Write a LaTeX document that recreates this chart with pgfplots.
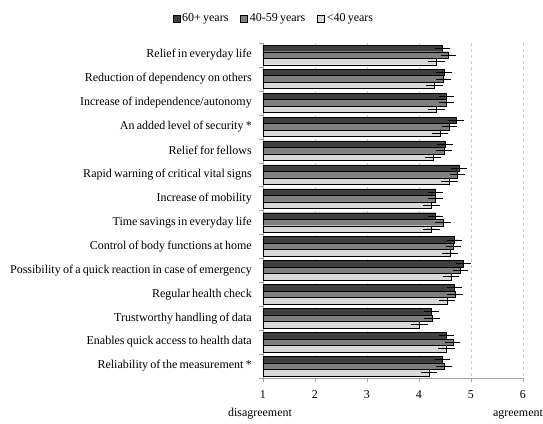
\documentclass[border=0pt]{standalone}
\usepackage{pgfplots}
\pgfplotsset{compat=1.18}
\usepackage{fontspec}
\setmainfont{Liberation Serif}[WordSpace=0.75]
\definecolor{cA}{HTML}{3F3F3F}
\definecolor{cB}{HTML}{7F7F7F}
\definecolor{cC}{HTML}{D9D9D9}
\definecolor{axg}{HTML}{A6A6A6}
\definecolor{grd}{HTML}{D0D0D0}
\begin{document}
\fontsize{12}{14}\selectfont
\begin{tikzpicture}
\begin{axis}[
 at={(0,0)}, anchor=south west,
 scale only axis, width=260pt, height=335pt,
 xmin=1, xmax=6, xtick={1,...,6},
 ymin=-0.5, ymax=13.5, y dir=reverse,
 ytick={0,...,13},
 yticklabels={Relief in everyday life, Reduction of dependency on others, Increase of independence/autonomy, An added level of security *, Relief for fellows, Rapid warning of critical vital signs, Increase of mobility, Time savings in everyday life, Control of body functions at home, Possibility of a quick reaction in case of emergency, Regular health check, Trustworthy handling of data, Enables quick access to health data, Reliability of the measurement *},
 minor ytick={-0.5,0.5,...,13.5},
 axis x line*=bottom, axis y line*=left,
 axis line style={draw=axg, -},
 xmajorgrids=true, major x grid style={dashed, grd},
 tick align=outside, major tick length=4pt, minor tick length=4pt,
 major y tick style={draw=none},
 minor y tick style={draw=axg},
 major x tick style={draw=axg},
 /pgf/number format/assume math mode=true,
 tick label style={font=\fontsize{12}{14}\selectfont},
 yticklabel style={xshift=-3pt},
 xticklabel style={yshift=-4pt},
 xbar, bar width=6.5pt,
 legend style={at={(0.042,1.072)}, anchor=center, draw=none, fill=none, legend columns=3,
   font=\fontsize{12}{14}\selectfont,
   /tikz/every even column/.append style={column sep=10pt}},
 legend image code/.code={\draw[#1, draw=black, line width=0.4pt] (0pt,-3.5pt) rectangle (7pt,3.5pt);},
 error bars/error bar style={black, line width=0.7pt},
 error bars/error mark options={black, mark size=3.5pt, line width=0.7pt},
]
\addplot[fill=cA, draw=black, line width=0.4pt, bar shift=6.5pt,
  error bars/.cd, x dir=both, x explicit] coordinates {
 (4.45,0) +- (0.08,0) (4.48,1) +- (0.08,0) (4.53,2) +- (0.08,0) (4.71,3) +- (0.08,0)
 (4.50,4) +- (0.08,0) (4.77,5) +- (0.08,0) (4.32,6) +- (0.08,0) (4.32,7) +- (0.08,0)
 (4.68,8) +- (0.08,0) (4.85,9) +- (0.08,0) (4.68,10) +- (0.08,0) (4.24,11) +- (0.08,0)
 (4.53,12) +- (0.08,0) (4.45,13) +- (0.08,0)};
\addplot[fill=cB, draw=black, line width=0.4pt, bar shift=0pt,
  error bars/.cd, x dir=both, x explicit] coordinates {
 (4.57,0) +- (0.08,0) (4.47,1) +- (0.08,0) (4.53,2) +- (0.08,0) (4.59,3) +- (0.08,0)
 (4.48,4) +- (0.08,0) (4.74,5) +- (0.08,0) (4.32,6) +- (0.08,0) (4.46,7) +- (0.08,0)
 (4.66,8) +- (0.08,0) (4.80,9) +- (0.08,0) (4.69,10) +- (0.08,0) (4.25,11) +- (0.08,0)
 (4.65,12) +- (0.08,0) (4.48,13) +- (0.08,0)};
\addplot[fill=cC, draw=black, line width=0.4pt, bar shift=-6.5pt,
  error bars/.cd, x dir=both, x explicit] coordinates {
 (4.34,0) +- (0.09,0) (4.30,1) +- (0.09,0) (4.34,2) +- (0.09,0) (4.40,3) +- (0.09,0)
 (4.27,4) +- (0.09,0) (4.59,5) +- (0.09,0) (4.24,6) +- (0.09,0) (4.24,7) +- (0.09,0)
 (4.60,8) +- (0.09,0) (4.62,9) +- (0.09,0) (4.54,10) +- (0.09,0) (4.01,11) +- (0.09,0)
 (4.53,12) +- (0.09,0) (4.19,13) +- (0.09,0)};
\legend{60+ years, 40-59 years, <40 years}
\end{axis}
\node at (-3pt,-36pt) {disagreement};
\node at (255pt,-36pt) {agreement};
\pgfresetboundingbox
\path[use as bounding box] (-263pt,-45pt) rectangle (280pt,378pt);
\end{tikzpicture}
\end{document}
